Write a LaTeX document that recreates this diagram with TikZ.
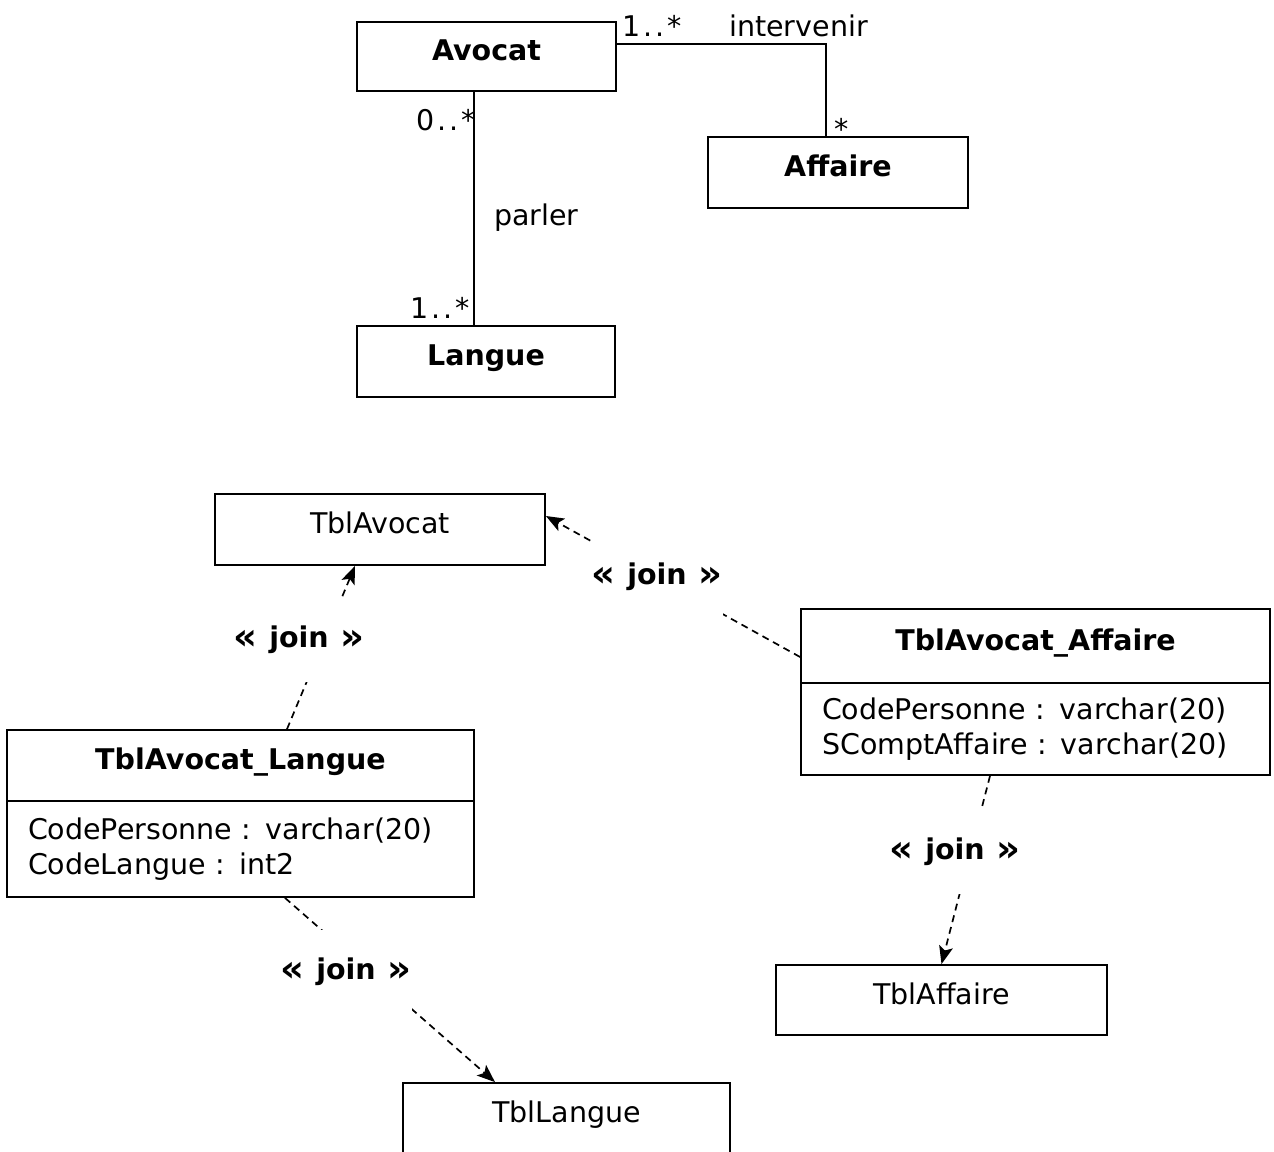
\documentclass[tikz,border=0pt]{standalone}
\usepackage{fontspec}
\setmainfont{DejaVu Sans}
\usetikzlibrary{arrows.meta}
\newcommand{\multrange}[1]{#1\kern3pt.\kern3pt.\kern3pt*}
\newcommand{\guil}[1]{\raisebox{-1.5pt}{\scalebox{1.3}{#1}}}
\newcommand{\joinword}{\guil{«}\hspace{12pt}join\hspace{12pt}\guil{»}}
\begin{document}
\begin{tikzpicture}[x=1pt,y=-1pt,
  every node/.style={font=\fontsize{28.5}{35}\selectfont},
  boxed/.style={draw, line width=1.8pt, inner sep=0pt, text height=20pt, text depth=12pt},
  cls/.style={boxed, font=\fontsize{28.5}{35}\selectfont\bfseries},
  attrs/.style={draw, line width=1.8pt, inner xsep=21pt, inner ysep=0pt, align=left},
  assoc/.style={line width=1.4pt},
  joinline/.style={line width=1.7pt, dash pattern=on 7pt off 5pt, -{Stealth[length=18pt,width=14pt,inset=4pt]}},
  joinlbl/.style={fill=white, inner xsep=0pt, inner ysep=28pt, font=\fontsize{28.5}{35}\selectfont\bfseries},
  mult/.style={inner sep=0pt}
]
\useasboundingbox (0,0) rectangle (1274,1151);

% ---- conceptual class diagram ----
\node[cls, minimum width=259pt, minimum height=69pt] (avocat) at (486.5,56.5) {Avocat};
\node[cls, minimum width=260pt, minimum height=71pt] (affaire) at (838,172.5) {Affaire};
\node[cls, minimum width=258pt, minimum height=71pt] (langue) at (486,361.5) {Langue};

\draw[assoc] ([yshift=12.5pt]avocat.east) -| ([xshift=-12pt]affaire.north);
\draw[assoc] ([xshift=-12.5pt]avocat.south) -- ([xshift=-12pt]langue.north);

\node[mult, anchor=base west] (m1) at (622,36) {\multrange{1}};
\node[mult, anchor=base west] (intervenir) at (729,36) {intervenir};
\node[mult, anchor=base west] (m2) at (834,139) {*};
\node[mult, anchor=base east] (m3) at (476,130) {\multrange{0}};
\node[mult, anchor=base west] (parler) at (494,225) {parler};
\node[mult, anchor=base east] (m4) at (470,318) {\multrange{1}};

% ---- relational tables ----
\node[boxed, minimum width=330pt, minimum height=71pt] (tblavocat) at (380,529.5) {TblAvocat};
\node[boxed, minimum width=331pt, minimum height=70pt] (tblaffaire) at (941.5,1000) {TblAffaire};
\node[boxed, minimum width=327pt, minimum height=71pt] (tbllangue) at (566.5,1118.5) {TblLangue};

\node[cls, minimum width=469pt, minimum height=74pt] (aah) at (1035.5,646) {TblAvocat\_Affaire};
\node[attrs, text width=427pt, minimum height=92pt] (aab) at (1035.5,729)
  {CodePersonne : varchar(20)\\SComptAffaire : varchar(20)};

\node[cls, minimum width=467pt, minimum height=71pt] (alh) at (240.5,765.5) {TblAvocat\_Langue};
\node[attrs, text width=425pt, minimum height=96pt] (alb) at (240.5,849)
  {CodePersonne : varchar(20)\\CodeLangue : int2};

% ---- join dependencies ----
\draw[joinline] ([xshift=46.5pt]alh.north) -- ([xshift=-25pt]tblavocat.south);
\draw[joinline] ([yshift=-11pt]aah.west) -- ([yshift=13.5pt]tblavocat.east);
\draw[joinline] ([xshift=44.5pt]alb.south) -- ([xshift=-71.5pt]tbllangue.north);
\draw[joinline] ([xshift=-45.5pt]aab.south) -- (tblaffaire.north);

\node[joinlbl] (j1) at (299,640) {\joinword};
\node[joinlbl] (j2) at (657,577) {\joinword};
\node[joinlbl] (j3) at (346,972) {\joinword};
\node[joinlbl] (j4) at (955,852) {\joinword};
\end{tikzpicture}
\end{document}
